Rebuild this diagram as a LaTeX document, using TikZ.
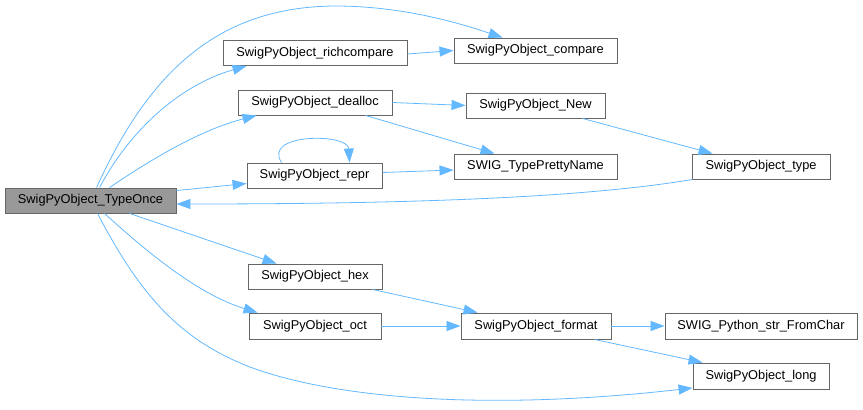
\documentclass[tikz,border=0pt]{standalone}
\usepackage{fontspec}
\setmainfont{Liberation Sans}
\usetikzlibrary{arrows.meta}
\definecolor{edgeblue}{HTML}{63B8FF}
\definecolor{boxgray}{HTML}{666666}
\tikzset{
  fn/.style={draw=boxgray, line width=0.9pt, fill=white, minimum height=25pt, inner sep=0pt, font=\fontsize{12.8}{14}\selectfont, text=black},
  root/.style={fn, fill=black!40},
  call/.style={draw=edgeblue, line width=0.8pt, -{Triangle[length=14pt,width=10pt,fill=edgeblue]}},
}
\begin{document}
\begin{tikzpicture}[x=1pt,y=-1pt]
\useasboundingbox (0,0) rectangle (863,410);
\node[root, minimum width=171pt] (once) at (90.5,200.5) {SwigPyObject\_TypeOnce};
\node[fn, minimum width=184pt] (rich) at (315,53) {SwigPyObject\_richcompare};
\node[fn, minimum width=163pt] (cmp) at (535.5,50.5) {SwigPyObject\_compare};
\node[fn, minimum width=154pt] (dealloc) at (315,102.5) {SwigPyObject\_dealloc};
\node[fn, minimum width=139pt] (new) at (535.5,105.5) {SwigPyObject\_New};
\node[fn, minimum width=135pt] (repr) at (314.5,175.5) {SwigPyObject\_repr};
\node[fn, minimum width=163pt] (pretty) at (535.5,166.5) {SWIG\_TypePrettyName};
\node[fn, minimum width=138pt] (type) at (761,166.5) {SwigPyObject\_type};
\node[fn, minimum width=134pt] (hex) at (315,276.5) {SwigPyObject\_hex};
\node[fn, minimum width=132pt, minimum height=26pt] (oct) at (315,326) {SwigPyObject\_oct};
\node[fn, minimum width=150pt, minimum height=26pt] (format) at (536,326) {SwigPyObject\_format};
\node[fn, minimum width=192pt, minimum height=26pt] (fromchar) at (761,326) {SWIG\_Python\_str\_FromChar};
\node[fn, minimum width=136pt, minimum height=26pt] (long) at (761,376) {SwigPyObject\_long};

% TypeOnce -> compare (big arc over top)
\draw[call] ([xshift=92pt]once.north west) .. controls (150,70) and (220,5) .. (340,6)
  .. controls (400,7) and (450,20) .. ([xshift=49pt]cmp.north west);
% TypeOnce -> richcompare
\draw[call] ([xshift=95pt]once.north west) .. controls (130,130) and (180,85) .. ([xshift=24pt]rich.south west);
% TypeOnce -> dealloc
\draw[call] ([xshift=105pt]once.north west) .. controls (150,160) and (200,130) .. ([xshift=19pt]dealloc.south west);
% TypeOnce -> repr
\draw[call] ([yshift=-3pt]once.north east) -- ([yshift=-8pt]repr.west);
% repr self loop
\draw[call] ([xshift=35pt]repr.north west) .. controls (262,133) and (348,133) .. ([xshift=103pt]repr.north west);
% type -> TypeOnce
\draw[call] ([xshift=1pt]type.south west) .. controls (600,195) and (450,204) .. ([yshift=-3.5pt]once.east);
% TypeOnce -> hex
\draw[call] ([xshift=125pt]once.south west) -- ([xshift=29pt]hex.north west);
% TypeOnce -> oct
\draw[call] ([xshift=100pt]once.south west) .. controls (150,255) and (200,295) .. ([xshift=9pt]oct.north west);
% TypeOnce -> long
\draw[call] ([xshift=93pt]once.south west) .. controls (140,295) and (180,340) .. (250,367)
  .. controls (330,397) and (480,412) .. ([yshift=1.5pt]long.south west);
% second level
\draw[call] ([yshift=-1pt]rich.east) -- (cmp.west);
\draw[call] (dealloc.east) -- (new.west);
\draw[call] ([xshift=128pt]dealloc.south west) -- ([xshift=41pt]pretty.north west);
\draw[call] ([yshift=3pt]repr.east) -- ([yshift=-3.5pt]pretty.west);
\draw[call] ([xshift=117pt]new.south west) -- ([xshift=21pt]type.north west);
\draw[call] ([xshift=125pt]hex.south west) -- ([xshift=17pt]format.north west);
\draw[call] (oct.east) -- (format.west);
\draw[call] (format.east) -- (fromchar.west);
\draw[call] ([xshift=134pt]format.south west) -- ([xshift=10pt]long.north west);
\end{tikzpicture}
\end{document}
